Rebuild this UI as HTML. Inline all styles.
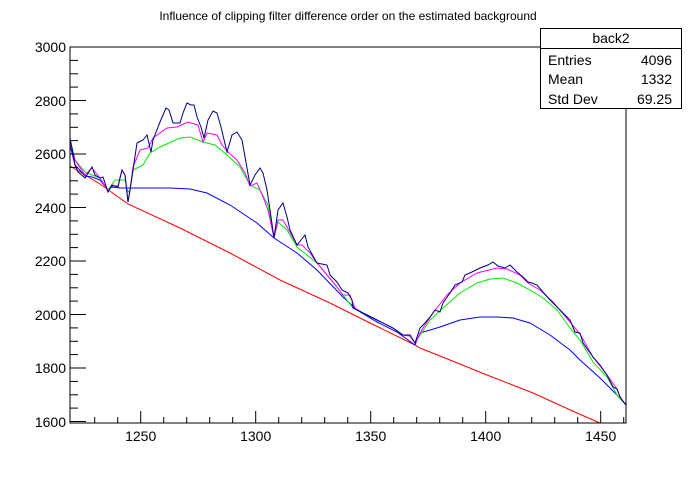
<!DOCTYPE html>
<html><head><style>
body{margin:0;background:#fff;}
svg text{font-family:"Liberation Sans",sans-serif;}
</style></head><body>
<svg width="696" height="472" xmlns="http://www.w3.org/2000/svg">
<rect width="696" height="472" fill="#fff"/>
<text x="348" y="20" font-size="12" text-anchor="middle">Influence of clipping filter difference order on the estimated background</text>
<g fill="none" stroke-width="1">
<polyline stroke="#ff0000" points="70,166 100,184 128,204 180,228 230,253 280,280 330,303 370,323 415,345 420,348 450,360 487,375 533,393 577,413 600,423"/>
<polyline stroke="#0000ff" points="70,145 75,165 85,176 92,177 100,180 108,190 112,187 120,188 130,188 150,188 170,188 190,189 207,193 230,205 257,223 274,238 297,253 317,270 343,297 357,310 377,322 397,332 415,345 420,333 440,327 460,320 480,317 497,317 513,318 530,323 550,335 570,350 580,360 600,378 617,395 626,405"/>
<polyline stroke="#00ee00" points="70,140 75,160 85,172 92,175 100,178 108,190 115,180 125,180 128,192 130,190 133,170 143,165 150,153 160,147 180,138 190,137 203,142 215,145 227,155 240,167 250,185 260,190 268,205 274,238 278,222 287,230 297,247 317,263 337,287 343,295 353,308 363,313 377,320 393,328 403,335 410,336 415,343 430,320 443,308 460,293 477,283 490,279 503,278 517,283 530,290 543,298 557,310 570,328 580,340 593,362 607,377 617,395 626,405"/>
<polyline stroke="#ff00ff" points="70,140 75,160 85,175 92,168 100,178 108,191 112,186 118,186 122,170 125,175 128,202 130,190 133,167 140,150 148,148 153,138 167,128 177,127 188,122 198,125 203,142 207,133 217,135 222,145 228,152 237,160 245,173 250,186 257,183 263,197 268,210 274,238 278,220 283,220 287,227 297,245 302,245 310,253 317,263 333,282 343,295 350,295 355,308 363,313 377,320 393,328 403,335 410,336 415,343 423,328 433,313 447,295 460,283 477,273 497,268 507,269 520,275 528,283 540,290 553,302 570,322 580,334 593,357 607,375 617,389 620,397 626,405"/>
<polyline stroke="#000080" points="70,138 72,148 75,165 78,172 85,178 92,167 95,175 100,178 103,177 108,192 112,185 118,187 120,178 122,170 125,175 128,202 130,190 134,163 137,143 143,140 147,135 151,152 153,140 160,122 166,108 169,110 173,123 180,123 183,113 187,103 191,105 194,105 197,117 201,127 204,138 208,120 213,111 217,113 221,127 227,152 232,135 237,132 242,140 247,168 250,185 255,175 260,168 263,173 267,190 270,210 274,238 278,210 283,203 287,217 290,230 297,245 301,240 305,235 308,247 317,263 327,265 330,275 337,282 342,290 348,293 352,300 353,308 363,313 377,320 393,328 403,335 410,335 415,343 420,328 425,323 430,317 435,310 440,312 443,303 450,293 455,285 462,282 465,275 472,272 480,268 488,265 493,262 498,266 505,268 510,265 517,272 523,277 528,282 532,283 537,285 543,292 550,300 557,307 563,313 570,320 575,332 580,333 583,343 593,357 600,365 607,375 613,387 617,389 620,397 626,405"/>
</g>
<rect x="70" y="47" width="556" height="376" fill="none" stroke="#000"/>
<g stroke="#000">
<line x1="70" y1="47" x2="86" y2="47"/><line x1="70" y1="100.5" x2="86" y2="100.5"/><line x1="70" y1="154" x2="86" y2="154"/><line x1="70" y1="207.5" x2="86" y2="207.5"/><line x1="70" y1="261" x2="86" y2="261"/><line x1="70" y1="314.5" x2="86" y2="314.5"/><line x1="70" y1="368" x2="86" y2="368"/><line x1="70" y1="421.5" x2="86" y2="421.5"/>
<line x1="70" y1="60.4" x2="78" y2="60.4"/><line x1="70" y1="73.8" x2="78" y2="73.8"/><line x1="70" y1="87.1" x2="78" y2="87.1"/>
<line x1="70" y1="113.9" x2="78" y2="113.9"/><line x1="70" y1="127.3" x2="78" y2="127.3"/><line x1="70" y1="140.6" x2="78" y2="140.6"/>
<line x1="70" y1="167.4" x2="78" y2="167.4"/><line x1="70" y1="180.8" x2="78" y2="180.8"/><line x1="70" y1="194.1" x2="78" y2="194.1"/>
<line x1="70" y1="220.9" x2="78" y2="220.9"/><line x1="70" y1="234.3" x2="78" y2="234.3"/><line x1="70" y1="247.6" x2="78" y2="247.6"/>
<line x1="70" y1="274.4" x2="78" y2="274.4"/><line x1="70" y1="287.8" x2="78" y2="287.8"/><line x1="70" y1="301.1" x2="78" y2="301.1"/>
<line x1="70" y1="327.9" x2="78" y2="327.9"/><line x1="70" y1="341.3" x2="78" y2="341.3"/><line x1="70" y1="354.6" x2="78" y2="354.6"/>
<line x1="70" y1="381.4" x2="78" y2="381.4"/><line x1="70" y1="394.8" x2="78" y2="394.8"/><line x1="70" y1="408.1" x2="78" y2="408.1"/>
<line x1="140.7" y1="423" x2="140.7" y2="411"/><line x1="255.7" y1="423" x2="255.7" y2="411"/><line x1="370.7" y1="423" x2="370.7" y2="411"/><line x1="485.7" y1="423" x2="485.7" y2="411"/><line x1="600.7" y1="423" x2="600.7" y2="411"/>
<line x1="94.7" y1="423" x2="94.7" y2="417"/><line x1="117.7" y1="423" x2="117.7" y2="417"/><line x1="163.7" y1="423" x2="163.7" y2="417"/><line x1="186.7" y1="423" x2="186.7" y2="417"/><line x1="209.7" y1="423" x2="209.7" y2="417"/><line x1="232.7" y1="423" x2="232.7" y2="417"/><line x1="278.7" y1="423" x2="278.7" y2="417"/><line x1="301.7" y1="423" x2="301.7" y2="417"/><line x1="324.7" y1="423" x2="324.7" y2="417"/><line x1="347.7" y1="423" x2="347.7" y2="417"/><line x1="393.7" y1="423" x2="393.7" y2="417"/><line x1="416.7" y1="423" x2="416.7" y2="417"/><line x1="439.7" y1="423" x2="439.7" y2="417"/><line x1="462.7" y1="423" x2="462.7" y2="417"/><line x1="508.7" y1="423" x2="508.7" y2="417"/><line x1="531.7" y1="423" x2="531.7" y2="417"/><line x1="554.7" y1="423" x2="554.7" y2="417"/><line x1="577.7" y1="423" x2="577.7" y2="417"/><line x1="623.7" y1="423" x2="623.7" y2="417"/>
</g>
<g font-size="14" text-anchor="end">
<text x="66" y="52">3000</text><text x="66" y="106">2800</text><text x="66" y="159">2600</text><text x="66" y="213">2400</text><text x="66" y="266">2200</text><text x="66" y="320">2000</text><text x="66" y="373">1800</text><text x="66" y="427">1600</text>
</g>
<g font-size="14" text-anchor="middle">
<text x="140.7" y="441">1250</text><text x="255.7" y="441">1300</text><text x="370.7" y="441">1350</text><text x="485.7" y="441">1400</text><text x="600.7" y="441">1450</text>
</g>
<rect x="540.5" y="28.5" width="141" height="80" fill="#fff" stroke="#000"/>
<line x1="540.5" y1="48.5" x2="681.5" y2="48.5" stroke="#000"/>
<g font-size="14">
<text x="611" y="43" text-anchor="middle">back2</text>
<text x="548" y="65">Entries</text><text x="672" y="65" text-anchor="end">4096</text>
<text x="548" y="84">Mean</text><text x="672" y="84" text-anchor="end">1332</text>
<text x="548" y="104">Std Dev</text><text x="672" y="104" text-anchor="end">69.25</text>
</g>
</svg>
</body></html>
